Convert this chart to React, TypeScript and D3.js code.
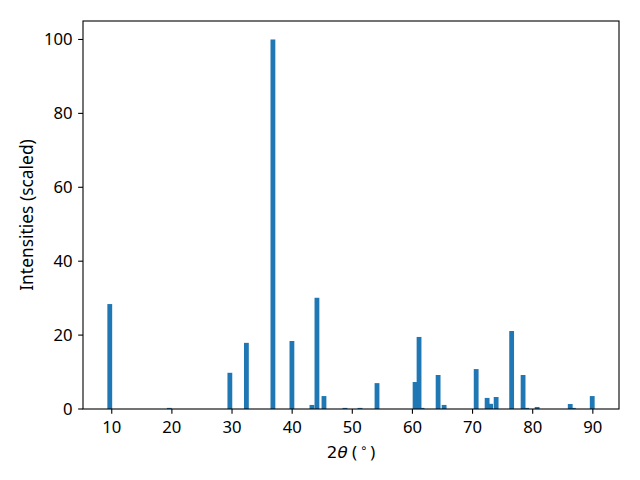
import React from "react";
import * as d3 from "d3";

const positions = [9.67, 19.57, 29.64, 32.39, 36.8, 39.96, 43.29, 44.12, 45.29, 48.78, 51.28, 54.11, 60.44, 61.1, 61.6, 64.27, 65.27, 70.6, 72.42, 73.0, 73.92, 76.5, 78.4, 79.0, 80.74, 86.24, 86.75, 89.9];
const intensities = [28.4, 0.3, 9.8, 17.9, 100, 18.4, 1.1, 30.1, 3.5, 0.3, 0.3, 7.0, 7.3, 19.5, 0.3, 9.2, 1.1, 10.8, 3.0, 1.4, 3.25, 21.1, 9.2, 0.3, 0.55, 1.35, 0.3, 3.5];
const xTicks = [10, 20, 30, 40, 50, 60, 70, 80, 90];
const yTicks = [0, 20, 40, 60, 80, 100];
const barWidth = 0.8;

const W = 640, H = 480;
const L = 83, R = 619, T = 21, B = 409;
const FS = 16.67;
const FONT = "'Noto Sans', 'Open Sans', sans-serif";

export default function App() {
  const lo = d3.min(positions)! - barWidth / 2;
  const hi = d3.max(positions)! + barWidth / 2;
  const m = (hi - lo) * 0.05;
  const x = d3.scaleLinear().domain([lo - m, hi + m]).range([L, R]);
  const y = d3.scaleLinear().domain([0, 105]).range([B, T]);
  const tl = 4.86;
  return (
    <svg width={W} height={H} style={{ position: "absolute", left: 0, top: 0, background: "#fff" }} fontFamily={FONT}>
      <rect x={0} y={0} width={W} height={H} fill="#fff" />
      {positions.map((p, i) => (
        <rect
          key={i}
          x={x(p - barWidth / 2)}
          width={x(p + barWidth / 2) - x(p - barWidth / 2)}
          y={y(intensities[i])}
          height={y(0) - y(intensities[i])}
          fill="#1f77b4"
        />
      ))}
      <rect x={L} y={T} width={R - L} height={B - T} fill="none" stroke="#000" strokeWidth={1.1} />
      {xTicks.map((t) => (
        <g key={t}>
          <line x1={x(t)} x2={x(t)} y1={B} y2={B + tl} stroke="#000" strokeWidth={1.1} />
          <text x={x(t)} y={432.5} textAnchor="middle" fontSize={FS} fill="#000">{t}</text>
        </g>
      ))}
      {yTicks.map((t) => (
        <g key={t}>
          <line x1={L - tl} x2={L} y1={y(t)} y2={y(t)} stroke="#000" strokeWidth={1.1} />
          <text x={72.5} y={y(t) + 6} textAnchor="end" fontSize={FS} fill="#000">{t}</text>
        </g>
      ))}
      <text x={(L + R) / 2} y={457.5} textAnchor="middle" fontSize={FS} fill="#000">
        <tspan fontFamily="DejaVu Sans">2</tspan>
        <tspan fontFamily="DejaVu Sans" fontStyle="italic">θ</tspan>
        <tspan> (</tspan>
        <tspan fontFamily="DejaVu Sans" fontSize={FS * 0.7} dx={3} dy={-6}>∘</tspan>
        <tspan dx={3} dy={6}>)</tspan>
      </text>
      <text transform={`translate(33,${(T + B) / 2}) rotate(-90)`} textAnchor="middle" fontSize={17.4} fill="#000">
        Intensities (scaled)
      </text>
    </svg>
  );
}
